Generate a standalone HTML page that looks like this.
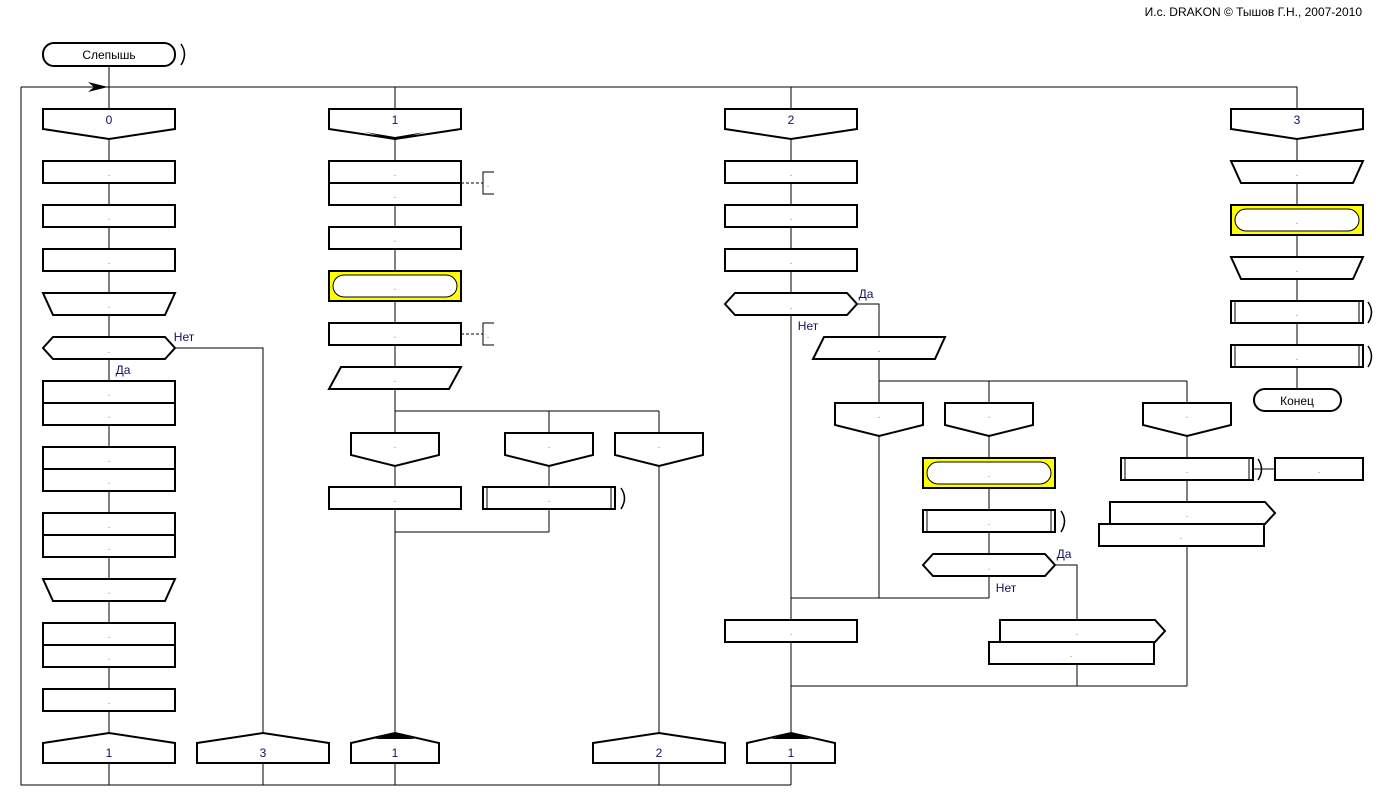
<!DOCTYPE html>
<html><head><meta charset="utf-8"><style>
body{margin:0;background:#fff}
svg{display:block}
.s{fill:#fff;stroke:#000;stroke-width:2}
.l{stroke:#000;stroke-width:1;fill:none;shape-rendering:crispEdges}
.b{fill:none;stroke:#000;stroke-width:1.5}
text{font-family:"Liberation Sans",sans-serif;font-size:12px;text-anchor:middle}
.d{fill:#c08000;font-size:10px}
.n{fill:#101060}
.y{fill:#ff0;stroke:#000;stroke-width:2}
.o{fill:#fff;stroke:#000;stroke-width:1}
</style></head><body>
<svg width="1385" height="807" viewBox="0 0 1385 807" xmlns="http://www.w3.org/2000/svg">
<text x="1362" y="16" style="text-anchor:end;font-size:12px">И.с. DRAKON © Тышов Г.Н., 2007-2010</text>

<g class="l">
<path d="M109 66V785M21 87H1297V109M21 87V785H791M395 87V743M791 87V743M1297 131V400"/>
<path d="M175 348H263V743M263 763V785M395 763V785M659 763V785M791 763V785"/>
<path d="M395 411H659M549 411V532M395 532H549M659 411V743"/>
<path d="M857 304H879V598M791 598H989M879 381H1187M989 381V598M1187 381V686M791 686H1187"/>
<path d="M1055 565H1077V686M1253 469H1275"/>
</g>
<path d="M88 82L108 87L88 92L94 87Z" fill="#000"/>

<rect class="s" x="43" y="43" width="132" height="23" rx="11"/>
<text x="109" y="59">Слепышь</text>
<path class="b" d="M181 44Q188 54 181 65"/>

<path class="s" d="M43 109H175V129L109 139L43 129Z"/><text class="n" x="109" y="124">0</text>
<path class="s" d="M329 109H461V129L395 139L329 129Z"/><path d="M365 132L395 137L425 132L395 140Z" fill="#000"/><text class="n" x="395" y="124">1</text>
<path class="s" d="M725 109H857V129L791 139L725 129Z"/><text class="n" x="791" y="124">2</text>
<path class="s" d="M1231 109H1363V129L1297 139L1231 129Z"/><text class="n" x="1297" y="124">3</text>

<rect class="s" x="43" y="161" width="132" height="22"/><text class="d" x="109" y="176">.</text>
<rect class="s" x="43" y="205" width="132" height="22"/><text class="d" x="109" y="220">.</text>
<rect class="s" x="43" y="249" width="132" height="22"/><text class="d" x="109" y="264">.</text>
<path class="s" d="M43 293H175L165 315H53Z"/><text class="d" x="109" y="308">.</text>
<path class="s" d="M43 348L53 337H165L175 348L165 359H53Z"/><text class="d" x="109" y="353">.</text>
<text class="n" x="184" y="341">Нет</text><text class="n" x="123" y="374">Да</text>
<rect class="s" x="43" y="381" width="132" height="22"/><rect class="s" x="43" y="403" width="132" height="22"/>
<text class="d" x="109" y="396">.</text><text class="d" x="109" y="418">.</text>
<rect class="s" x="43" y="447" width="132" height="22"/><rect class="s" x="43" y="469" width="132" height="22"/>
<text class="d" x="109" y="462">.</text><text class="d" x="109" y="484">.</text>
<rect class="s" x="43" y="513" width="132" height="22"/><rect class="s" x="43" y="535" width="132" height="22"/>
<text class="d" x="109" y="528">.</text><text class="d" x="109" y="550">.</text>
<path class="s" d="M43 579H175L165 601H53Z"/><text class="d" x="109" y="594">.</text>
<rect class="s" x="43" y="623" width="132" height="22"/><rect class="s" x="43" y="645" width="132" height="22"/>
<text class="d" x="109" y="638">.</text><text class="d" x="109" y="660">.</text>
<rect class="s" x="43" y="689" width="132" height="22"/><text class="d" x="109" y="704">.</text>

<path class="s" d="M43 743L109 733L175 743V763H43Z"/><text class="n" x="109" y="757">1</text>
<path class="s" d="M197 743L263 733L329 743V763H197Z"/><text class="n" x="263" y="757">3</text>
<path class="s" d="M351 743L395 733L439 743V763H351Z"/><path d="M375 739L395 733L415 739Z" fill="#000"/><text class="n" x="395" y="757">1</text>
<path class="s" d="M593 743L659 733L725 743V763H593Z"/><text class="n" x="659" y="757">2</text>
<path class="s" d="M747 743L791 733L835 743V763H747Z"/><path d="M771 739L791 733L811 739Z" fill="#000"/><text class="n" x="791" y="757">1</text>

<rect class="s" x="329" y="161" width="132" height="22"/><rect class="s" x="329" y="183" width="132" height="22"/>
<text class="d" x="395" y="176">.</text><text class="d" x="395" y="198">.</text>
<path class="l" d="M461 183H483" stroke-dasharray="3,2"/><path class="l" d="M494 172H483V194H494"/><text class="d" x="488" y="187">.</text>
<rect class="s" x="329" y="227" width="132" height="22"/><text class="d" x="395" y="242">.</text>
<rect class="y" x="329" y="271" width="132" height="30"/><rect class="o" x="333" y="275" width="124" height="22" rx="11"/><text class="d" x="395" y="290">.</text>
<rect class="s" x="329" y="323" width="132" height="22"/><text class="d" x="395" y="338">.</text>
<path class="l" d="M461 334H483" stroke-dasharray="3,2"/><path class="l" d="M494 323H483V345H494"/><text class="d" x="488" y="338">.</text>
<path class="s" d="M341 367H461L449 389H329Z"/><text class="d" x="395" y="382">.</text>
<path class="s" d="M351 433H439V455L395 466L351 455Z"/><text class="d" x="395" y="448">.</text>
<path class="s" d="M505 433H593V455L549 466L505 455Z"/><text class="d" x="549" y="448">.</text>
<path class="s" d="M615 433H703V455L659 466L615 455Z"/><text class="d" x="659" y="448">.</text>
<rect class="s" x="329" y="487" width="132" height="22"/><text class="d" x="395" y="502">.</text>
<rect class="s" x="483" y="487" width="132" height="22"/><path class="l" d="M487 487V509M611 487V509"/><text class="d" x="549" y="502">.</text>
<path class="b" d="M621 488Q628 498 621 509"/>

<rect class="s" x="725" y="161" width="132" height="22"/><text class="d" x="791" y="176">.</text>
<rect class="s" x="725" y="205" width="132" height="22"/><text class="d" x="791" y="220">.</text>
<rect class="s" x="725" y="249" width="132" height="22"/><text class="d" x="791" y="264">.</text>
<path class="s" d="M725 304L735 293H847L857 304L847 315H735Z"/><text class="d" x="791" y="309">.</text>
<text class="n" x="866" y="298">Да</text><text class="n" x="808" y="330">Нет</text>
<path class="s" d="M824 337H945L935 359H813Z"/><text class="d" x="879" y="352">.</text>
<path class="s" d="M835 403H923V425L879 436L835 425Z"/><text class="d" x="879" y="418">.</text>
<path class="s" d="M945 403H1033V425L989 436L945 425Z"/><text class="d" x="989" y="418">.</text>
<path class="s" d="M1143 403H1231V425L1187 436L1143 425Z"/><text class="d" x="1187" y="418">.</text>
<rect class="y" x="923" y="458" width="132" height="30"/><rect class="o" x="927" y="462" width="124" height="22" rx="11"/><text class="d" x="989" y="477">.</text>
<rect class="s" x="923" y="510" width="132" height="22"/><path class="l" d="M927 510V532M1051 510V532"/><text class="d" x="989" y="525">.</text>
<path class="b" d="M1061 511Q1068 521 1061 532"/>
<path class="s" d="M923 565L933 554H1045L1055 565L1045 576H933Z"/><text class="d" x="989" y="570">.</text>
<text class="n" x="1064" y="558">Да</text><text class="n" x="1006" y="592">Нет</text>
<rect class="s" x="725" y="620" width="132" height="22"/><text class="d" x="791" y="635">.</text>
<path class="s" d="M1000 620H1155L1165 631L1155 642H1000Z"/><text class="d" x="1077" y="635">.</text>
<rect class="s" x="989" y="642" width="165" height="22"/><text class="d" x="1071" y="657">.</text>
<rect class="s" x="1121" y="458" width="132" height="22"/><path class="l" d="M1125 458V480M1249 458V480"/><text class="d" x="1187" y="473">.</text>
<path class="b" d="M1258 459Q1265 469 1258 480"/>
<rect class="s" x="1275" y="458" width="88" height="22"/><text class="d" x="1319" y="473">.</text>
<path class="s" d="M1110 502H1265L1275 513L1265 524H1110Z"/><text class="d" x="1187" y="517">.</text>
<rect class="s" x="1099" y="524" width="165" height="22"/><text class="d" x="1181" y="539">.</text>

<path class="s" d="M1231 161H1363L1353 183H1241Z"/><text class="d" x="1297" y="176">.</text>
<rect class="y" x="1231" y="205" width="132" height="30"/><rect class="o" x="1235" y="209" width="124" height="22" rx="11"/><text class="d" x="1297" y="224">.</text>
<path class="s" d="M1231 257H1363L1353 279H1241Z"/><text class="d" x="1297" y="272">.</text>
<rect class="s" x="1231" y="301" width="132" height="22"/><path class="l" d="M1235 301V323M1359 301V323"/><text class="d" x="1297" y="316">.</text>
<path class="b" d="M1368 302Q1375 312 1368 323"/>
<rect class="s" x="1231" y="345" width="132" height="22"/><path class="l" d="M1235 345V367M1359 345V367"/><text class="d" x="1297" y="360">.</text>
<path class="b" d="M1368 346Q1375 356 1368 367"/>
<rect class="s" x="1254" y="389" width="87" height="22" rx="11"/><text x="1297" y="405">Конец</text>
</svg>
</body></html>
